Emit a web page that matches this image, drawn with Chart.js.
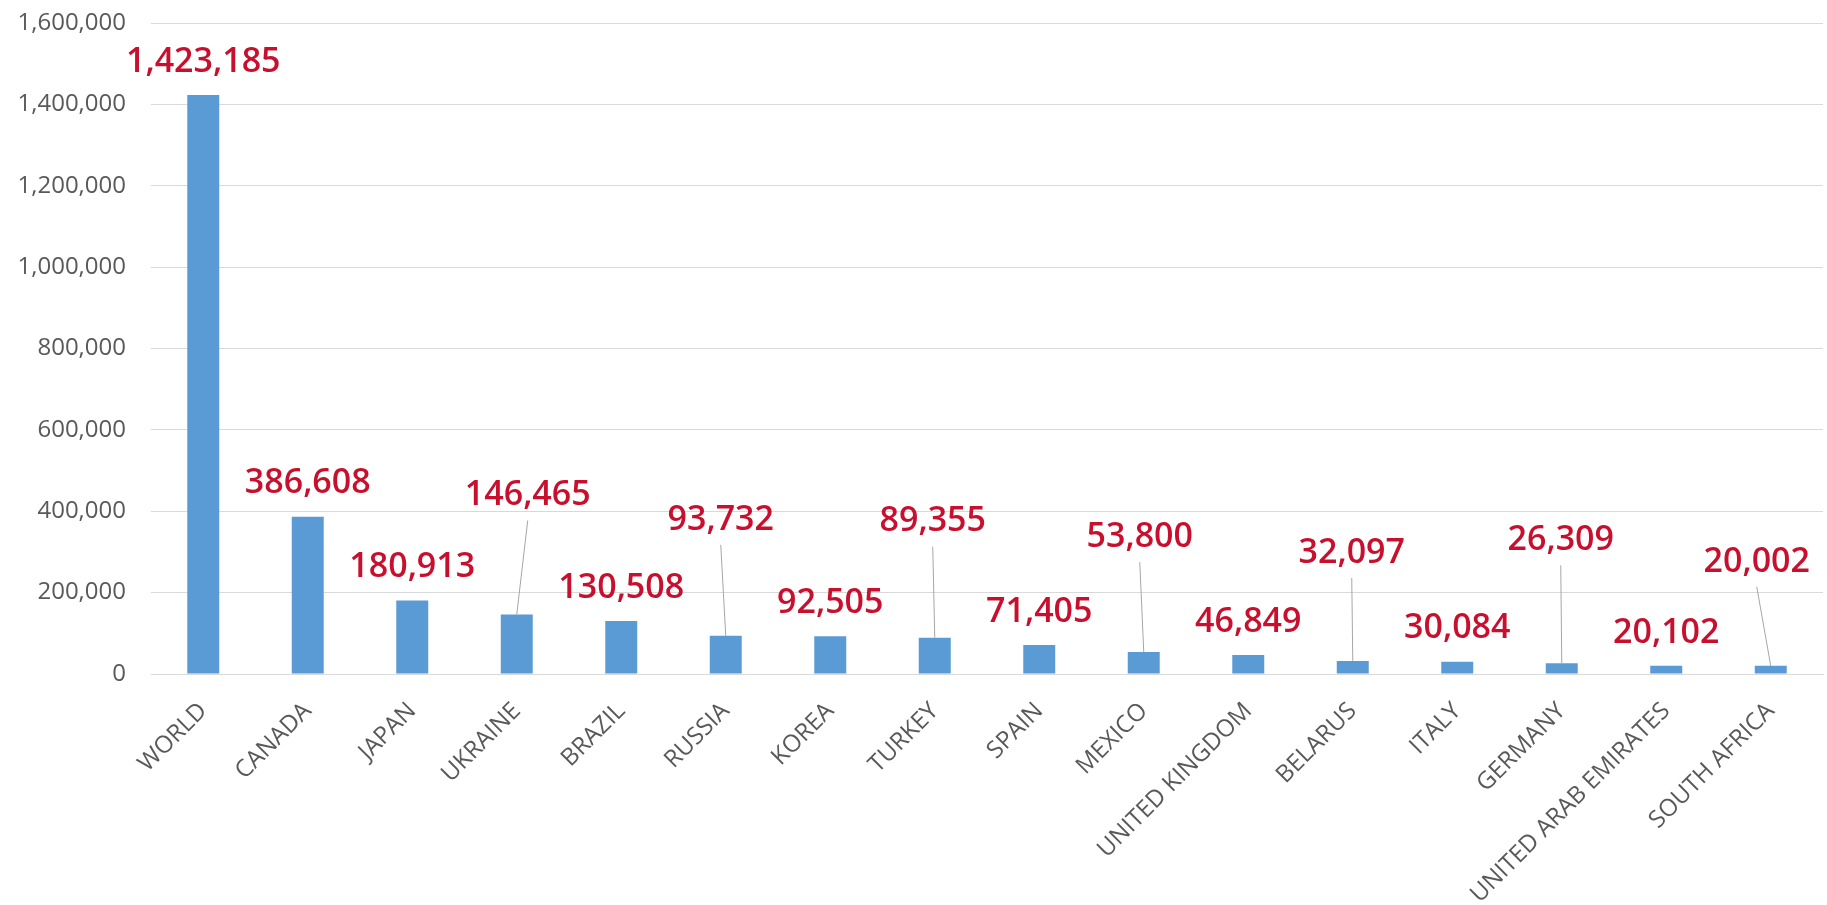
<!DOCTYPE html>
<html>
<head>
<meta charset="utf-8">
<script src="https://cdn.jsdelivr.net/npm/chart.js@4/dist/chart.umd.min.js"></script>
<style>
  html, body { margin: 0; padding: 0; background: #ffffff; }
  #wrap { position: relative; width: 1827px; height: 905px; }
</style>
</head>
<body>
<div id="wrap"><canvas id="c"></canvas></div>
<script>
const categories = ["WORLD", "CANADA", "JAPAN", "UKRAINE", "BRAZIL", "RUSSIA", "KOREA", "TURKEY", "SPAIN", "MEXICO", "UNITED KINGDOM", "BELARUS", "ITALY", "GERMANY", "UNITED ARAB EMIRATES", "SOUTH AFRICA"];
const values = [1423185, 386608, 180913, 146465, 130508, 93732, 92505, 89355, 71405, 53800, 46849, 32097, 30084, 26309, 20102, 20002];
const yMax = 1600000;
const yStep = 200000;

// Layout of the data labels that are lifted and joined to their bar with a leader line (pixel offsets from bar top centre)
const liftedLabels = { 3: [11, -119], 5: [-5, -116], 7: [-2, -116], 9: [-4, -115], 11: [-1, -108], 13: [-1, -123], 15: [-14, -104] };

const labelPlugin = {
  id: 'valueLabels',
  afterDatasetsDraw(chart) {
    const ctx = chart.ctx;
    const meta = chart.getDatasetMeta(0);
    ctx.save();
    ctx.font = '600 34px "Open Sans"';
    ctx.fillStyle = '#c8102e';
    ctx.textAlign = 'center';
    ctx.textBaseline = 'middle';
    meta.data.forEach((bar, i) => {
      const v = chart.data.datasets[0].data[i];
      const txt = v.toLocaleString('en-US');
      let lx = bar.x, ly = bar.y - 33;
      const off = liftedLabels[i];
      if (off) {
        lx = bar.x + off[0];
        ly = bar.y + off[1];
        ctx.save();
        ctx.strokeStyle = '#a6a6a6';
        ctx.lineWidth = 1;
        ctx.beginPath();
        ctx.moveTo(lx, ly + 25);
        ctx.lineTo(bar.x, bar.y);
        ctx.stroke();
        ctx.restore();
      }
      ctx.fillText(txt, lx, ly);
    });
    ctx.restore();
  }
};

new Chart(document.getElementById('c'), {
  type: 'bar',
  data: {
    labels: categories,
    datasets: [{
      data: values,
      backgroundColor: '#5b9bd5',
      borderWidth: 0,
      categoryPercentage: 1,
      barPercentage: 0.306
    }]
  },
  options: {
    responsive: true,
    maintainAspectRatio: false,
    animation: false,
    layout: { padding: { left: 17, right: 4, top: 23, bottom: 0 } },
    plugins: {
      legend: { display: false },
      tooltip: { enabled: false }
    },
    scales: {
      x: {
        grid: { display: false, drawTicks: false },
        border: { color: '#d9d9d9', width: 1 },
        afterFit: (scale) => { scale.paddingLeft = 0; scale.paddingRight = 0; scale.height = 231; },
        ticks: {
          color: '#595959',
          font: { family: '"Open Sans"', size: 24 },
          maxRotation: 45,
          minRotation: 45,
          autoSkip: false,
          padding: 23
        }
      },
      y: {
        min: 0,
        max: yMax,
        grid: { color: '#d9d9d9', lineWidth: 1, drawTicks: false },
        border: { display: false },
        afterFit: (scale) => { scale.paddingTop = 0; scale.paddingBottom = 0; scale.width = 134; },
        ticks: {
          stepSize: yStep,
          color: '#595959',
          font: { family: '"Open Sans"', size: 24 },
          padding: 25,
          callback: (v) => v.toLocaleString('en-US')
        }
      }
    }
  },
  plugins: [labelPlugin]
});
</script>
</body>
</html>
